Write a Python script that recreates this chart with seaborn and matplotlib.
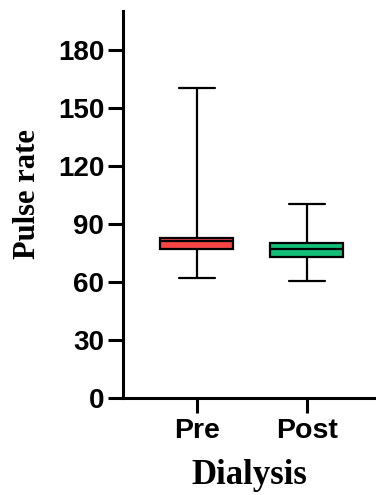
import matplotlib
matplotlib.use("Agg")
import matplotlib.pyplot as plt
import seaborn as sns
import pandas as pd

groups = ["Pre", "Post"]
pre_stats = [62, 77, 81, 82.5, 160]    # min, Q1, median, Q3, max
post_stats = [60.5, 73, 77, 80, 100]
colors = ["#F64545", "#13BE78"]
yticks = [0, 30, 60, 90, 120, 150, 180]

df = pd.DataFrame({
    "Dialysis": ["Pre"] * len(pre_stats) + ["Post"] * len(post_stats),
    "Pulse rate": pre_stats + post_stats,
})

sns.set_style("ticks")
plt.rcParams["font.family"] = ["Liberation Sans", "DejaVu Sans"]
for k in ["text.color", "axes.labelcolor", "xtick.color", "ytick.color"]:
    plt.rcParams[k] = "black"

fig = plt.figure(figsize=(3.76, 4.95), dpi=100)
ax = fig.add_axes([0.327, 0.196, 0.67, 0.782])

lw = 2.2
blw = 1.6
sns.boxplot(data=df, x="Dialysis", y="Pulse rate", order=groups, hue="Dialysis",
            palette=colors, whis=(0, 100), width=0.66, linewidth=blw, linecolor="black",
            saturation=1, legend=False, ax=ax,
            capprops=dict(linewidth=blw), whiskerprops=dict(linewidth=blw),
            medianprops=dict(linewidth=blw), boxprops=dict(linewidth=blw),
            fliersize=0)

ax.set_ylim(0, 200)
ax.set_xlim(-0.67, 1.62)
ax.set_yticks(yticks)
ax.set_yticklabels([str(t) for t in yticks], fontsize=20, fontweight="bold")
ax.set_xticks([0, 1])
ax.set_xticklabels(groups, fontsize=20.5, fontweight="bold")
ax.tick_params(axis="both", width=lw, length=10.5, color="black", labelcolor="black")
ax.tick_params(axis="x", pad=4)
ax.tick_params(axis="y", pad=3)
for s in ["left", "bottom"]:
    ax.spines[s].set_linewidth(lw)
    ax.spines[s].set_color("black")
for s in ["top", "right"]:
    ax.spines[s].set_visible(False)

ax.set_ylabel("Pulse rate", fontsize=22, fontweight="bold", family="Liberation Serif",
              color="black", va="center")
ax.yaxis.set_label_coords(-0.38, 0.526)
ax.set_xlabel("Dialysis", fontsize=25, fontweight="bold", family="Liberation Serif",
              labelpad=11, color="black")

fig.savefig("out.png", dpi=100)
